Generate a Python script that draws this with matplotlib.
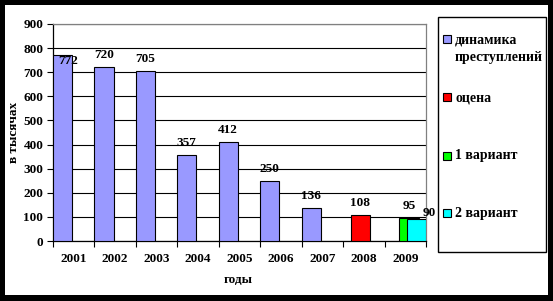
import matplotlib.pyplot as plt
from matplotlib.patches import Rectangle

years = ['2001', '2002', '2003', '2004', '2005', '2006', '2007', '2008', '2009']
dyn_years = [0, 1, 2, 3, 4, 5, 6]
dynamics = [772, 720, 705, 357, 412, 250, 136]
est_years = [7]
estimate = [108]
v1_years = [8]
variant1 = [95]
v2_years = [8]
variant2 = [90]
legend_labels = ['динамика\nпреступлений', 'оцена', '1 вариант', '2 вариант']
colors = ['#9999FF', '#FF0000', '#00FF00', '#00FFFF']

W, H = 553, 301
plt.rcParams['font.family'] = ['Liberation Serif', 'DejaVu Serif']
plt.rcParams['font.weight'] = 'bold'

fig = plt.figure(figsize=(W / 100, H / 100), dpi=100)
fig.patch.set_facecolor('black')
fig.patches.append(Rectangle((5 / W, 1 - 295 / H), 543 / W, 290 / H,
                             transform=fig.transFigure, facecolor='white',
                             edgecolor='none', zorder=-5))

ax = fig.add_axes([53 / W, 1 - 241 / H, 373 / W, 217 / H])
ax.set_facecolor('white')

w = 0.46
step = 0.18
series = [(dyn_years, dynamics), (est_years, estimate),
          (v1_years, variant1), (v2_years, variant2)]
bars = []
for k, (xs, vals) in enumerate(series):
    b = ax.bar([x - 0.5 + k * step for x in xs], vals, width=w, align='edge',
               color=colors[k], edgecolor='black', linewidth=0.8, zorder=3)
    bars.append(b)

# value labels
for k, (xs, vals) in enumerate(series):
    for rect, v in zip(bars[k], vals):
        cx = rect.get_x() + rect.get_width() / 2
        off = (0, 12)
        if v == 772:
            off = (6, -6)
        if k == 3:
            off = (13, 6)
        ax.annotate(str(v), (cx, v), xytext=off, textcoords='offset pixels',
                    ha='center', va='center', fontsize=9.5, fontweight='bold',
                    zorder=4, annotation_clip=False)

ax.set_xlim(-0.5, 8.5)
ax.set_ylim(0, 900)
ax.set_yticks(range(0, 901, 100))
ax.set_xticks([i - 0.5 for i in range(10)])
ax.set_xticklabels([])
ax.set_xticks(range(9), minor=True)
ax.set_xticklabels(years, minor=True)
ax.tick_params(axis='x', which='major', direction='out', length=4, width=0.8)
ax.tick_params(axis='x', which='minor', length=0, pad=9, labelsize=9.5)
ax.tick_params(axis='y', direction='out', length=4, width=0.8, pad=3, labelsize=9.5)
ax.grid(axis='y', color='black', linewidth=0.8, zorder=1)
ax.set_axisbelow(True)
for s in ['top', 'right']:
    ax.spines[s].set_color('#808080')
    ax.spines[s].set_linewidth(0.9)
for s in ['left', 'bottom']:
    ax.spines[s].set_color('black')
    ax.spines[s].set_linewidth(0.9)

ax.set_xlabel('годы', fontsize=9.5, fontweight='bold')
ax.set_ylabel('в тысячах', fontsize=9.5, fontweight='bold')
ax.xaxis.set_label_coords(0.495, -0.15)
ax.yaxis.set_label_coords(-0.088, 0.5)

# legend box
fig.patches.append(Rectangle((438 / W, 1 - 252 / H), 108 / W, 235 / H,
                             transform=fig.transFigure, facecolor='white',
                             edgecolor='black', linewidth=1.0, zorder=2))
rows = [39, 97, 155.5, 213]
for lab, col, y in zip(legend_labels, colors, rows):
    fig.patches.append(Rectangle((443 / W, 1 - (y + 4) / H), 8 / W, 8 / H,
                                 transform=fig.transFigure, facecolor=col,
                                 edgecolor='black', linewidth=0.8, zorder=3))
    fig.text(455 / W, 1 - (y - 6) / H, lab, ha='left', va='top', fontsize=10,
             fontweight='bold', linespacing=1.5, zorder=4)

fig.savefig('out.png', dpi=100, facecolor=fig.get_facecolor())
